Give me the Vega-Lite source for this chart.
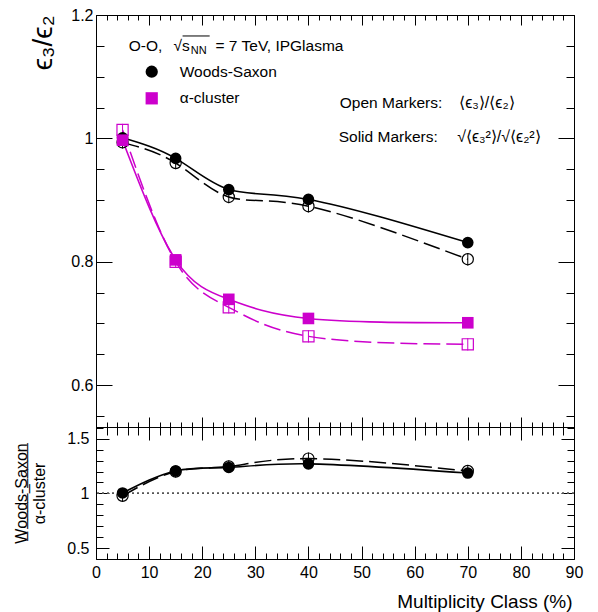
{
  "$schema": "https://vega.github.io/schema/vega-lite/v6.json",
  "padding": {"left": 13, "top": 7, "right": 5, "bottom": 5},
  "background": "white",
  "config": {
    "font": "Liberation Sans",
    "view": {"stroke": null},
    "axis": {
      "grid": false, "domainColor": "black", "tickColor": "black", "labelColor": "black", "titleColor": "black",
      "labelFont": "Liberation Sans", "titleFont": "Liberation Sans", "titleFontWeight": "normal",
      "labelFontSize": 16, "domainWidth": 1, "tickWidth": 1, "labelFlush": false, "labelOverlap": false
    }
  },
  "datasets": {
    "top": [
      {"x": 5, "model": "Woods-Saxon", "kind": "solid", "y": 1.001, "err": 0.01},
      {"x": 15, "model": "Woods-Saxon", "kind": "solid", "y": 0.9676, "err": 0.01},
      {"x": 25, "model": "Woods-Saxon", "kind": "solid", "y": 0.917, "err": 0.01},
      {"x": 40, "model": "Woods-Saxon", "kind": "solid", "y": 0.901, "err": 0.01},
      {"x": 70, "model": "Woods-Saxon", "kind": "solid", "y": 0.831, "err": 0.01},
      {"x": 5, "model": "Woods-Saxon", "kind": "open", "y": 0.9935, "err": 0.01},
      {"x": 15, "model": "Woods-Saxon", "kind": "open", "y": 0.96, "err": 0.01},
      {"x": 25, "model": "Woods-Saxon", "kind": "open", "y": 0.905, "err": 0.01},
      {"x": 40, "model": "Woods-Saxon", "kind": "open", "y": 0.89, "err": 0.01},
      {"x": 70, "model": "Woods-Saxon", "kind": "open", "y": 0.804, "err": 0.01},
      {"x": 5, "model": "α-cluster", "kind": "solid", "y": 0.997, "err": 0.01},
      {"x": 15, "model": "α-cluster", "kind": "solid", "y": 0.803, "err": 0.01},
      {"x": 25, "model": "α-cluster", "kind": "solid", "y": 0.739, "err": 0.01},
      {"x": 40, "model": "α-cluster", "kind": "solid", "y": 0.708, "err": 0.01},
      {"x": 70, "model": "α-cluster", "kind": "solid", "y": 0.701, "err": 0.01},
      {"x": 5, "model": "α-cluster", "kind": "open", "y": 1.0135, "err": 0.01},
      {"x": 15, "model": "α-cluster", "kind": "open", "y": 0.8, "err": 0.01},
      {"x": 25, "model": "α-cluster", "kind": "open", "y": 0.726, "err": 0.01},
      {"x": 40, "model": "α-cluster", "kind": "open", "y": 0.679, "err": 0.01},
      {"x": 70, "model": "α-cluster", "kind": "open", "y": 0.666, "err": 0.01}
    ],
    "ratio": [
      {"x": 5, "kind": "solid", "r": 1.004, "err": 0.055},
      {"x": 15, "kind": "solid", "r": 1.205, "err": 0.055},
      {"x": 25, "kind": "solid", "r": 1.237, "err": 0.055},
      {"x": 40, "kind": "solid", "r": 1.27, "err": 0.055},
      {"x": 70, "kind": "solid", "r": 1.186, "err": 0.055},
      {"x": 5, "kind": "open", "r": 0.978, "err": 0.055},
      {"x": 15, "kind": "open", "r": 1.2, "err": 0.055},
      {"x": 25, "kind": "open", "r": 1.246, "err": 0.055},
      {"x": 40, "kind": "open", "r": 1.318, "err": 0.055},
      {"x": 70, "kind": "open", "r": 1.205, "err": 0.055}
    ],
    "legend": [
      {"x": 10.49, "y": 1.108, "model": "Woods-Saxon"},
      {"x": 10.49, "y": 1.0649, "model": "α-cluster"}
    ],
    "overline": [
      {"x": 16.3, "x2": 21.4, "y": 1.166}
    ],
    "notes": [
      {"x": 6.16, "y": 1.1497, "label": "O-O,", "role": "main"},
      {"x": 14.6, "y": 1.1497, "label": "√s", "role": "main"},
      {"x": 17.83, "y": 1.1416, "label": "NN", "role": "sub"},
      {"x": 22.5, "y": 1.1497, "label": "= 7 TeV, IPGlasma", "role": "main"},
      {"x": 15.76, "y": 1.108, "label": "Woods-Saxon", "role": "main"},
      {"x": 15.76, "y": 1.0649, "label": "α-cluster", "role": "main"},
      {"x": 45.9, "y": 1.0568, "label": "Open Markers:", "role": "main"},
      {"x": 45.7, "y": 1.0026, "label": "Solid Markers:", "role": "main"},
      {"x": 68.4, "y": 1.0568, "label": "⟨ϵ₃⟩/⟨ϵ₂⟩", "role": "math"},
      {"x": 68.0, "y": 1.0026, "label": "√⟨ϵ₃²⟩/√⟨ϵ₂²⟩", "role": "math"}
    ]
  },
  "spacing": 0,
  "bounds": "flush",
  "resolve": {"scale": {"color": "independent", "shape": "independent", "stroke": "independent", "x": "independent", "y": "independent"}},
  "vconcat": [
    {
      "width": 478,
      "height": 412,
      "data": {"name": "top"},
      "resolve": {"axis": {"x": "independent", "y": "independent"}},
      "layer": [
        {
          "transform": [{"filter": "datum.kind === 'solid'"}],
          "mark": {"type": "line", "interpolate": "natural", "strokeWidth": 1.6},
          "encoding": {
            "x": {"field": "x", "type": "quantitative", "scale": {"domain": [0, 90], "nice": false, "zero": false},
              "axis": {"orient": "bottom", "values": [0, 10, 20, 30, 40, 50, 60, 70, 80, 90], "labels": false, "tickSize": -10, "title": null}},
            "y": {"field": "y", "type": "quantitative", "scale": {"domain": [0.532, 1.2], "nice": false, "zero": false},
              "axis": {"orient": "left", "values": [0.6, 0.8, 1, 1.2], "format": "~g", "tickSize": -16, "labelPadding": 19,
                "title": "ϵ₃/ϵ₂", "titleFontSize": 28, "titleAngle": 270, "titleAlign": "right", "titleBaseline": "alphabetic", "titleX": -45, "titleY": 0}},
            "stroke": {"field": "model", "type": "nominal", "scale": {"domain": ["Woods-Saxon", "α-cluster"], "range": ["#000000", "#cc00cc"]}, "legend": null}
          }
        },
        {
          "transform": [{"filter": "datum.kind === 'open'"}],
          "mark": {"type": "line", "interpolate": "natural", "strokeWidth": 1.5, "strokeDash": [17, 6]},
          "encoding": {
            "x": {"field": "x", "type": "quantitative", "scale": {"domain": [0, 90], "nice": false, "zero": false},
              "axis": {"orient": "top", "values": [0, 10, 20, 30, 40, 50, 60, 70, 80, 90], "labels": false, "tickSize": -10, "title": null}},
            "y": {"field": "y", "type": "quantitative", "scale": {"domain": [0.532, 1.2], "nice": false, "zero": false},
              "axis": {"orient": "right", "values": [0.6, 0.8, 1, 1.2], "labels": false, "tickSize": -16, "title": null}},
            "stroke": {"field": "model", "type": "nominal", "scale": {"domain": ["Woods-Saxon", "α-cluster"], "range": ["#000000", "#cc00cc"]}, "legend": null}
          }
        },
        {
          "transform": [{"filter": "datum.kind === 'open' && datum.model === 'Woods-Saxon'"}],
          "mark": {"type": "errorbar", "thickness": 1, "color": "#000000"},
          "encoding": {
            "x": {"field": "x", "type": "quantitative", "scale": {"domain": [0, 90], "nice": false, "zero": false}, "axis": null},
            "y": {"field": "y", "type": "quantitative", "scale": {"domain": [0.532, 1.2], "nice": false, "zero": false}, "axis": null},
            "yError": {"field": "err"}
          }
        },
        {
          "transform": [{"filter": "datum.kind === 'open' && datum.model === 'α-cluster'"}],
          "mark": {"type": "errorbar", "thickness": 1, "color": "#cc00cc"},
          "encoding": {
            "x": {"field": "x", "type": "quantitative", "scale": {"domain": [0, 90], "nice": false, "zero": false}, "axis": null},
            "y": {"field": "y", "type": "quantitative", "scale": {"domain": [0.532, 1.2], "nice": false, "zero": false}, "axis": null},
            "yError": {"field": "err"}
          }
        },
        {
          "transform": [{"filter": "datum.kind === 'open' && datum.model === 'Woods-Saxon'"}],
          "mark": {"type": "point", "shape": "circle", "filled": false, "opacity": 1, "strokeWidth": 1.2, "size": 125, "color": "#000000"},
          "encoding": {
            "x": {"field": "x", "type": "quantitative", "scale": {"domain": [0, 90], "nice": false, "zero": false},
              "axis": {"orient": "bottom", "values": [0,2,4,6,8,10,12,14,16,18,20,22,24,26,28,30,32,34,36,38,40,42,44,46,48,50,52,54,56,58,60,62,64,66,68,70,72,74,76,78,80,82,84,86,88,90], "labels": false, "domain": false, "tickSize": -5, "title": null}},
            "y": {"field": "y", "type": "quantitative", "scale": {"domain": [0.532, 1.2], "nice": false, "zero": false},
              "axis": {"orient": "left", "values": [0.55,0.6,0.65,0.7,0.75,0.8,0.85,0.9,0.95,1,1.05,1.1,1.15,1.2], "labels": false, "domain": false, "tickSize": -8, "title": null}}
          }
        },
        {
          "transform": [{"filter": "datum.kind === 'open' && datum.model === 'α-cluster'"}],
          "mark": {"type": "point", "shape": "square", "filled": false, "opacity": 1, "strokeWidth": 1.2, "size": 125, "color": "#cc00cc"},
          "encoding": {
            "x": {"field": "x", "type": "quantitative", "scale": {"domain": [0, 90], "nice": false, "zero": false},
              "axis": {"orient": "top", "values": [0,2,4,6,8,10,12,14,16,18,20,22,24,26,28,30,32,34,36,38,40,42,44,46,48,50,52,54,56,58,60,62,64,66,68,70,72,74,76,78,80,82,84,86,88,90], "labels": false, "domain": false, "tickSize": -5, "title": null}},
            "y": {"field": "y", "type": "quantitative", "scale": {"domain": [0.532, 1.2], "nice": false, "zero": false},
              "axis": {"orient": "right", "values": [0.55,0.6,0.65,0.7,0.75,0.8,0.85,0.9,0.95,1,1.05,1.1,1.15,1.2], "labels": false, "domain": false, "tickSize": -8, "title": null}}
          }
        },
        {
          "transform": [{"filter": "datum.kind === 'solid'"}],
          "mark": {"type": "point", "filled": true, "opacity": 1, "size": 135},
          "encoding": {
            "x": {"field": "x", "type": "quantitative", "scale": {"domain": [0, 90], "nice": false, "zero": false}, "axis": null},
            "y": {"field": "y", "type": "quantitative", "scale": {"domain": [0.532, 1.2], "nice": false, "zero": false}, "axis": null},
            "color": {"field": "model", "type": "nominal", "scale": {"domain": ["Woods-Saxon", "α-cluster"], "range": ["#000000", "#cc00cc"]}, "legend": null},
            "shape": {"field": "model", "type": "nominal", "scale": {"domain": ["Woods-Saxon", "α-cluster"], "range": ["circle", "square"]}, "legend": null}
          }
        },
        {
          "data": {"name": "legend"},
          "mark": {"type": "point", "filled": true, "opacity": 1, "size": 150},
          "encoding": {
            "x": {"field": "x", "type": "quantitative", "scale": {"domain": [0, 90], "nice": false, "zero": false}, "axis": null},
            "y": {"field": "y", "type": "quantitative", "scale": {"domain": [0.532, 1.2], "nice": false, "zero": false}, "axis": null},
            "color": {"field": "model", "type": "nominal", "scale": {"domain": ["Woods-Saxon", "α-cluster"], "range": ["#000000", "#cc00cc"]}, "legend": null},
            "shape": {"field": "model", "type": "nominal", "scale": {"domain": ["Woods-Saxon", "α-cluster"], "range": ["circle", "square"]}, "legend": null}
          }
        },
        {
          "data": {"name": "overline"},
          "mark": {"type": "rule", "color": "black", "strokeWidth": 1},
          "encoding": {
            "x": {"field": "x", "type": "quantitative", "scale": {"domain": [0, 90], "nice": false, "zero": false}, "axis": null},
            "x2": {"field": "x2"},
            "y": {"field": "y", "type": "quantitative", "scale": {"domain": [0.532, 1.2], "nice": false, "zero": false}, "axis": null}
          }
        },
        {
          "data": {"name": "notes"},
          "transform": [{"filter": "datum.role === 'main'"}],
          "mark": {"type": "text", "align": "left", "baseline": "middle", "fontSize": 15.5, "font": "Liberation Sans", "color": "black"},
          "encoding": {
            "x": {"field": "x", "type": "quantitative", "scale": {"domain": [0, 90], "nice": false, "zero": false}, "axis": null},
            "y": {"field": "y", "type": "quantitative", "scale": {"domain": [0.532, 1.2], "nice": false, "zero": false}, "axis": null},
            "text": {"field": "label"}
          }
        },
        {
          "data": {"name": "notes"},
          "transform": [{"filter": "datum.role === 'sub'"}],
          "mark": {"type": "text", "align": "left", "baseline": "middle", "fontSize": 11, "font": "Liberation Sans", "color": "black"},
          "encoding": {
            "x": {"field": "x", "type": "quantitative", "scale": {"domain": [0, 90], "nice": false, "zero": false}, "axis": null},
            "y": {"field": "y", "type": "quantitative", "scale": {"domain": [0.532, 1.2], "nice": false, "zero": false}, "axis": null},
            "text": {"field": "label"}
          }
        },
        {
          "data": {"name": "notes"},
          "transform": [{"filter": "datum.role === 'math'"}],
          "mark": {"type": "text", "align": "left", "baseline": "middle", "fontSize": 16, "font": "Liberation Sans", "color": "black"},
          "encoding": {
            "x": {"field": "x", "type": "quantitative", "scale": {"domain": [0, 90], "nice": false, "zero": false}, "axis": null},
            "y": {"field": "y", "type": "quantitative", "scale": {"domain": [0.532, 1.2], "nice": false, "zero": false}, "axis": null},
            "text": {"field": "label"}
          }
        }
      ]
    },
    {
      "width": 478,
      "height": 132,
      "data": {"name": "ratio"},
      "resolve": {"axis": {"x": "independent", "y": "independent"}},
      "layer": [
        {
          "mark": {"type": "rule", "color": "#555555", "strokeWidth": 1, "strokeDash": [2, 3]},
          "encoding": {
            "y": {"datum": 1, "type": "quantitative", "scale": {"domain": [0.4, 1.607], "nice": false, "zero": false}, "axis": null}
          }
        },
        {
          "transform": [{"filter": "datum.kind === 'solid'"}],
          "mark": {"type": "line", "interpolate": "natural", "strokeWidth": 1.6, "color": "black"},
          "encoding": {
            "x": {"field": "x", "type": "quantitative", "scale": {"domain": [0, 90], "nice": false, "zero": false},
              "axis": {"orient": "bottom", "values": [0, 10, 20, 30, 40, 50, 60, 70, 80, 90], "format": "d", "tickSize": -13, "labelPadding": 18,
                "title": "Multiplicity Class (%)", "titleFontSize": 19, "titleAnchor": "end", "titleAlign": "right", "titleBaseline": "alphabetic", "titleX": 476, "titleY": 48}},
            "y": {"field": "r", "type": "quantitative", "scale": {"domain": [0.4, 1.607], "nice": false, "zero": false},
              "axis": {"orient": "left", "values": [0.5, 1, 1.5], "format": "~g", "tickSize": -13, "labelPadding": 20,
                "title": ["W\u0332o\u0332o\u0332d\u0332s\u0332-\u0332S\u0332a\u0332x\u0332o\u0332n\u0332", "α-cluster"], "titleFontSize": 16, "titleAngle": 270, "titleAlign": "center", "titleBaseline": "alphabetic", "titleLineHeight": 18, "titleX": -70, "titleY": 66}}
          }
        },
        {
          "transform": [{"filter": "datum.kind === 'open'"}],
          "mark": {"type": "line", "interpolate": "natural", "strokeWidth": 1.5, "strokeDash": [17, 6], "color": "black"},
          "encoding": {
            "x": {"field": "x", "type": "quantitative", "scale": {"domain": [0, 90], "nice": false, "zero": false},
              "axis": {"orient": "top", "values": [0, 10, 20, 30, 40, 50, 60, 70, 80, 90], "labels": false, "tickSize": -13, "title": null}},
            "y": {"field": "r", "type": "quantitative", "scale": {"domain": [0.4, 1.607], "nice": false, "zero": false},
              "axis": {"orient": "right", "values": [0.5, 1, 1.5], "labels": false, "tickSize": -13, "title": null}}
          }
        },
        {
          "transform": [{"filter": "datum.kind === 'open'"}],
          "mark": {"type": "errorbar", "thickness": 1, "color": "black"},
          "encoding": {
            "x": {"field": "x", "type": "quantitative", "scale": {"domain": [0, 90], "nice": false, "zero": false}, "axis": null},
            "y": {"field": "r", "type": "quantitative", "scale": {"domain": [0.4, 1.607], "nice": false, "zero": false}, "axis": null},
            "yError": {"field": "err"}
          }
        },
        {
          "transform": [{"filter": "datum.kind === 'open'"}],
          "mark": {"type": "point", "shape": "circle", "filled": false, "opacity": 1, "strokeWidth": 1.2, "size": 125, "color": "black"},
          "encoding": {
            "x": {"field": "x", "type": "quantitative", "scale": {"domain": [0, 90], "nice": false, "zero": false},
              "axis": {"orient": "bottom", "values": [0,2,4,6,8,10,12,14,16,18,20,22,24,26,28,30,32,34,36,38,40,42,44,46,48,50,52,54,56,58,60,62,64,66,68,70,72,74,76,78,80,82,84,86,88,90], "labels": false, "domain": false, "tickSize": -6, "title": null}},
            "y": {"field": "r", "type": "quantitative", "scale": {"domain": [0.4, 1.607], "nice": false, "zero": false},
              "axis": {"orient": "left", "values": [0.5,0.6,0.7,0.8,0.9,1,1.1,1.2,1.3,1.4,1.5,1.6], "labels": false, "domain": false, "tickSize": -7, "title": null}}
          }
        },
        {
          "transform": [{"filter": "datum.kind === 'solid'"}],
          "mark": {"type": "point", "shape": "circle", "filled": true, "opacity": 1, "size": 135, "color": "black"},
          "encoding": {
            "x": {"field": "x", "type": "quantitative", "scale": {"domain": [0, 90], "nice": false, "zero": false},
              "axis": {"orient": "top", "values": [0,2,4,6,8,10,12,14,16,18,20,22,24,26,28,30,32,34,36,38,40,42,44,46,48,50,52,54,56,58,60,62,64,66,68,70,72,74,76,78,80,82,84,86,88,90], "labels": false, "domain": false, "tickSize": -8, "title": null}},
            "y": {"field": "r", "type": "quantitative", "scale": {"domain": [0.4, 1.607], "nice": false, "zero": false},
              "axis": {"orient": "right", "values": [0.5,0.6,0.7,0.8,0.9,1,1.1,1.2,1.3,1.4,1.5,1.6], "labels": false, "domain": false, "tickSize": -7, "title": null}}
          }
        }
      ]
    }
  ]
}
